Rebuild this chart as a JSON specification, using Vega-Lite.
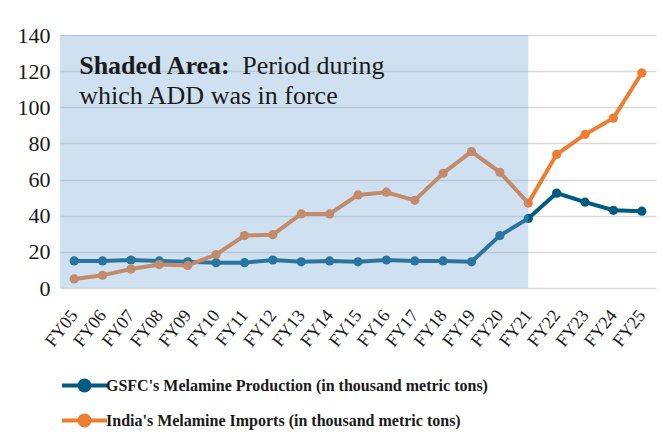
{
  "$schema": "https://vega.github.io/schema/vega-lite/v6.json",
  "width": 596,
  "height": 253,
  "padding": {"left": 17, "top": 24, "right": 6, "bottom": 0},
  "background": "white",
  "config": {
    "font": "Liberation Serif",
    "view": {"stroke": null},
    "axisX": {"labelFont": "Liberation Serif", "labelColor": "#1a1a1a", "domain": false, "ticks": false, "grid": false, "labelAngle": -52, "labelFontSize": 18, "labelPadding": 24, "labelAlign": "right", "labelBaseline": "middle"},
    "axisY": {"labelFont": "Liberation Serif", "labelColor": "#1a1a1a", "domain": false, "ticks": false, "tickCount": 7, "labelFontSize": 22, "labelPadding": 10, "gridColor": "#d9d9d9", "gridWidth": 1.5}
  },
  "datasets": {
    "series": [
      {"fy": "FY05", "series": "GSFC's Melamine Production (in thousand metric tons)", "value": 15},
      {"fy": "FY06", "series": "GSFC's Melamine Production (in thousand metric tons)", "value": 15},
      {"fy": "FY07", "series": "GSFC's Melamine Production (in thousand metric tons)", "value": 15.5},
      {"fy": "FY08", "series": "GSFC's Melamine Production (in thousand metric tons)", "value": 15},
      {"fy": "FY09", "series": "GSFC's Melamine Production (in thousand metric tons)", "value": 14.5},
      {"fy": "FY10", "series": "GSFC's Melamine Production (in thousand metric tons)", "value": 14},
      {"fy": "FY11", "series": "GSFC's Melamine Production (in thousand metric tons)", "value": 14},
      {"fy": "FY12", "series": "GSFC's Melamine Production (in thousand metric tons)", "value": 15.5},
      {"fy": "FY13", "series": "GSFC's Melamine Production (in thousand metric tons)", "value": 14.5},
      {"fy": "FY14", "series": "GSFC's Melamine Production (in thousand metric tons)", "value": 15},
      {"fy": "FY15", "series": "GSFC's Melamine Production (in thousand metric tons)", "value": 14.5},
      {"fy": "FY16", "series": "GSFC's Melamine Production (in thousand metric tons)", "value": 15.5},
      {"fy": "FY17", "series": "GSFC's Melamine Production (in thousand metric tons)", "value": 15},
      {"fy": "FY18", "series": "GSFC's Melamine Production (in thousand metric tons)", "value": 15},
      {"fy": "FY19", "series": "GSFC's Melamine Production (in thousand metric tons)", "value": 14.5},
      {"fy": "FY20", "series": "GSFC's Melamine Production (in thousand metric tons)", "value": 29},
      {"fy": "FY21", "series": "GSFC's Melamine Production (in thousand metric tons)", "value": 38.5},
      {"fy": "FY22", "series": "GSFC's Melamine Production (in thousand metric tons)", "value": 52.5},
      {"fy": "FY23", "series": "GSFC's Melamine Production (in thousand metric tons)", "value": 47.5},
      {"fy": "FY24", "series": "GSFC's Melamine Production (in thousand metric tons)", "value": 43},
      {"fy": "FY25", "series": "GSFC's Melamine Production (in thousand metric tons)", "value": 42.5},
      {"fy": "FY05", "series": "India's Melamine Imports (in thousand metric tons)", "value": 5},
      {"fy": "FY06", "series": "India's Melamine Imports (in thousand metric tons)", "value": 7},
      {"fy": "FY07", "series": "India's Melamine Imports (in thousand metric tons)", "value": 10.5},
      {"fy": "FY08", "series": "India's Melamine Imports (in thousand metric tons)", "value": 13},
      {"fy": "FY09", "series": "India's Melamine Imports (in thousand metric tons)", "value": 12.5},
      {"fy": "FY10", "series": "India's Melamine Imports (in thousand metric tons)", "value": 18.5},
      {"fy": "FY11", "series": "India's Melamine Imports (in thousand metric tons)", "value": 29},
      {"fy": "FY12", "series": "India's Melamine Imports (in thousand metric tons)", "value": 29.5},
      {"fy": "FY13", "series": "India's Melamine Imports (in thousand metric tons)", "value": 41},
      {"fy": "FY14", "series": "India's Melamine Imports (in thousand metric tons)", "value": 41},
      {"fy": "FY15", "series": "India's Melamine Imports (in thousand metric tons)", "value": 51.5},
      {"fy": "FY16", "series": "India's Melamine Imports (in thousand metric tons)", "value": 53},
      {"fy": "FY17", "series": "India's Melamine Imports (in thousand metric tons)", "value": 48.5},
      {"fy": "FY18", "series": "India's Melamine Imports (in thousand metric tons)", "value": 63.5},
      {"fy": "FY19", "series": "India's Melamine Imports (in thousand metric tons)", "value": 75.5},
      {"fy": "FY20", "series": "India's Melamine Imports (in thousand metric tons)", "value": 64},
      {"fy": "FY21", "series": "India's Melamine Imports (in thousand metric tons)", "value": 47},
      {"fy": "FY22", "series": "India's Melamine Imports (in thousand metric tons)", "value": 74},
      {"fy": "FY23", "series": "India's Melamine Imports (in thousand metric tons)", "value": 85},
      {"fy": "FY24", "series": "India's Melamine Imports (in thousand metric tons)", "value": 94},
      {"fy": "FY25", "series": "India's Melamine Imports (in thousand metric tons)", "value": 119}
    ],
    "shade": [{"end": "FY21", "top": 140, "bottom": 0}],
    "notes": [
      {"label": "Shaded Area:", "line": "first", "part": "bold"},
      {"label": "Period during", "line": "first", "part": "normal"},
      {"label": "which ADD was in force", "line": "second", "part": "normal"}
    ]
  },
  "layer": [
    {
      "data": {"name": "series"},
      "mark": {"type": "line", "strokeWidth": 4},
      "encoding": {
        "x": {
          "field": "fy", "type": "ordinal",
          "scale": {"type": "point", "paddingOuter": 0.6},
          "axis": {"title": null, "labelFont": "Liberation Serif", "labelFontSize": 18, "labelAngle": -52, "labelPadding": 24, "labelAlign": "right", "labelBaseline": "middle"}
        },
        "y": {
          "field": "value", "type": "quantitative",
          "scale": {"domain": [0, 140]},
          "axis": {"title": null, "labelFont": "Liberation Serif", "labelFontSize": 22, "labelPadding": 10}
        },
        "color": {
          "field": "series", "type": "nominal",
          "scale": {"range": ["#005B82", "#ED7D31"]},
          "legend": {
            "title": null,
            "orient": "none",
            "legendX": 11,
            "legendY": 337,
            "direction": "vertical",
            "padding": 0,
            "rowPadding": 8,
            "symbolType": "M-2,0H2M-0.44,0A0.44,0.44,0,1,1,0.44,0A0.44,0.44,0,1,1,-0.44,0Z",
            "symbolSize": 506,
            "symbolStrokeWidth": 4,
            "labelOffset": 8,
            "labelFont": "Liberation Serif",
            "labelFontWeight": "bold",
            "labelFontSize": 16,
            "labelColor": "#1a1a1a",
            "labelLimit": 600,
            "encode": {"symbols": {"update": {"fill": {"scale": "color", "field": "value"}}}}
          }
        }
      }
    },
    {
      "data": {"name": "series"},
      "mark": {"type": "point", "filled": true, "opacity": 1, "size": 85, "shape": "circle"},
      "encoding": {
        "x": {"field": "fy", "type": "ordinal", "axis": {"title": null, "labelFont": "Liberation Serif"}},
        "y": {"field": "value", "type": "quantitative", "axis": {"title": null, "labelFont": "Liberation Serif"}},
        "color": {"field": "series", "type": "nominal", "legend": null}
      }
    },
    {
      "data": {"name": "shade"},
      "mark": {"type": "rect", "fill": "#76a6d7", "opacity": 0.35},
      "encoding": {
        "x": {"field": "end", "type": "ordinal", "axis": {"title": null, "labelFont": "Liberation Serif"}},
        "x2": {"value": 0},
        "y": {"field": "top", "type": "quantitative", "axis": {"title": null, "labelFont": "Liberation Serif"}},
        "y2": {"field": "bottom"}
      }
    },
    {
      "data": {"name": "notes"},
      "transform": [{"filter": "datum.part == 'bold'"}],
      "mark": {"type": "text", "font": "Liberation Serif", "fontWeight": "bold", "fontSize": 26, "align": "left", "baseline": "middle", "dx": 5, "color": "#1a1a1a"},
      "encoding": {"x": {"datum": "FY05"}, "y": {"datum": 123}, "text": {"field": "label"}}
    },
    {
      "data": {"name": "notes"},
      "transform": [{"filter": "datum.part == 'normal' && datum.line == 'first'"}],
      "mark": {"type": "text", "font": "Liberation Serif", "fontSize": 26, "align": "left", "baseline": "middle", "dx": 168, "color": "#1a1a1a"},
      "encoding": {"x": {"datum": "FY05"}, "y": {"datum": 123}, "text": {"field": "label"}}
    },
    {
      "data": {"name": "notes"},
      "transform": [{"filter": "datum.line == 'second'"}],
      "mark": {"type": "text", "font": "Liberation Serif", "fontSize": 26, "align": "left", "baseline": "middle", "dx": 5, "color": "#1a1a1a"},
      "encoding": {"x": {"datum": "FY05"}, "y": {"datum": 106}, "text": {"field": "label"}}
    }
  ]
}
